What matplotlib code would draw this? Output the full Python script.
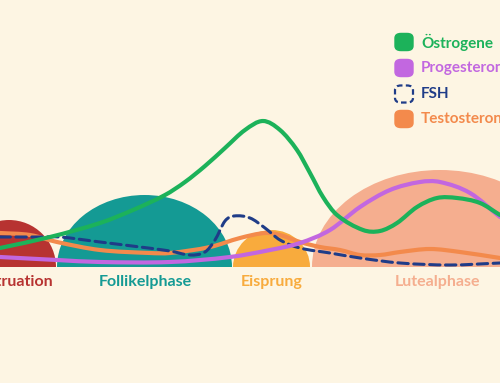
import matplotlib
matplotlib.use("Agg")
import matplotlib.pyplot as plt
import numpy as np
from matplotlib.patches import Ellipse, Rectangle, FancyBboxPatch, PathPatch
from matplotlib.path import Path

BG = "#fdf5e3"

# Phases (x in cycle units, height in hormone-level units)
phase_names = ["Menstruation", "Follikelphase", "Eisprung", "Lutealphase"]
phase_start = [-38, 57, 233, 312]
phase_end = [56, 232, 310, 568]
phase_height = [47, 72, 37, 97]
phase_label_x = [5, 145, 272, 438]
phase_colors = ["#b73331", "#149a94", "#f8ab3d", "#f5ae8f"]

# Hormone series: x positions and levels
est_x = [0, 50, 100, 133, 165, 185, 205, 225, 245, 263, 280, 297, 310, 323, 337,
         363, 380, 397, 417, 437, 457, 480, 500]
est_y = [19, 30, 44, 57, 72, 85, 101, 119, 137, 146, 137, 117, 94, 70, 52,
         37, 36, 44, 60, 69, 69, 64, 52]

prog_x = [0, 57, 100, 170, 230, 270, 300, 330, 360, 390, 420, 440, 470, 500]
prog_y = [10, 7, 5, 5, 10, 17, 24, 37, 60, 77, 85, 85, 74, 50]

fsh_x = [0, 40, 60, 100, 140, 170, 190, 205, 215, 225, 234, 250, 265, 280, 300, 330, 360, 400, 450, 500]
fsh_y = [30, 30, 30, 25, 20, 16, 12, 15, 27, 46, 51, 49, 39, 27, 19, 14, 9, 4, 2, 4]

test_x = [0, 30, 57, 100, 150, 170, 210, 240, 265, 280, 300, 320, 340, 360, 380, 400, 430, 460, 500]
test_y = [34, 32, 25, 17, 14, 14, 20, 29, 34, 32, 25, 20, 17, 12, 12, 15, 18, 15, 9]

series = [
    ("Testosterone", test_x, test_y, "#f38a4c", "-"),
    ("FSH", fsh_x, fsh_y, "#1f3c88", "--"),
    ("Progesterone", prog_x, prog_y, "#c267e0", "-"),
    ("Östrogene", est_x, est_y, "#1cb25a", "-"),
]
legend_order = ["Östrogene", "Progesterone", "FSH", "Testosterone"]

plt.rcParams['font.family'] = ['Lato', 'DejaVu Sans']

fig = plt.figure(figsize=(5, 3.83), dpi=100, facecolor=BG)
ax = fig.add_axes([0, 0, 1, 1])
ax.set_facecolor(BG)
ax.set_xlim(0, 500)
ax.set_ylim(-116, 267)
ax.axis("off")

clip_rect = Rectangle((-100, 0), 800, 400, transform=ax.transData)
for name, s, e, h, lx, c in zip(phase_names, phase_start, phase_end, phase_height,
                                phase_label_x, phase_colors):
    cx = (s + e) / 2
    el = Ellipse((cx, 0), e - s, 2 * h, facecolor=c, edgecolor="none", zorder=1)
    ax.add_patch(el)
    el.set_clip_path(clip_rect)
    ax.text(lx, -15, name, ha="center", va="center", color=c, fontsize=11.5,
            fontweight="bold", zorder=5)


def smooth_path(xs, ys):
    x = np.asarray(xs, float)
    y = np.asarray(ys, float)
    n = len(x)
    m = np.zeros(n)
    for i in range(n):
        if i == 0:
            m[i] = (y[1] - y[0]) / (x[1] - x[0])
        elif i == n - 1:
            m[i] = (y[-1] - y[-2]) / (x[-1] - x[-2])
        else:
            m[i] = (y[i + 1] - y[i - 1]) / (x[i + 1] - x[i - 1])
    verts = [(x[0], y[0])]
    codes = [Path.MOVETO]
    for i in range(n - 1):
        dx = x[i + 1] - x[i]
        verts += [(x[i] + dx / 3, y[i] + m[i] * dx / 3),
                  (x[i + 1] - dx / 3, y[i + 1] - m[i + 1] * dx / 3),
                  (x[i + 1], y[i + 1])]
        codes += [Path.CURVE4] * 3
    return Path(verts, codes)


for name, xs, ys, col, ls in series:
    lw = 2.2 if ls == "--" else 3.0
    pp = PathPatch(smooth_path(xs, ys), facecolor="none", edgecolor=col, lw=lw,
                   capstyle="round", joinstyle="round", zorder=3)
    if ls == "--":
        pp.set_linestyle((0, (3.4, 1.8)))
    ax.add_patch(pp)

# Legend
colors = {n: c for n, _, _, c, _ in series}
styles = {n: l for n, _, _, _, l in series}
row_y = [42, 68, 94, 119]
for name, yy in zip(legend_order, row_y):
    fy = 1 - yy / 383
    c = colors[name]
    if styles[name] == "--":
        box = FancyBboxPatch((397 / 500, fy - 7 / 383), 14 / 500, 14 / 383,
                             boxstyle="round,pad=0.004,rounding_size=0.012",
                             transform=fig.transFigure, facecolor="none",
                             edgecolor=c, lw=1.6, linestyle=(0, (2.5, 1.5)))
    else:
        box = FancyBboxPatch((397 / 500, fy - 7 / 383), 14 / 500, 14 / 383,
                             boxstyle="round,pad=0.004,rounding_size=0.012",
                             transform=fig.transFigure, facecolor=c, edgecolor=c, lw=1)
    fig.patches.append(box)
    fig.text(421 / 500, fy, name, color=c, fontsize=11, fontweight="bold",
             ha="left", va="center")

fig.savefig("out.png", dpi=100, facecolor=BG)
